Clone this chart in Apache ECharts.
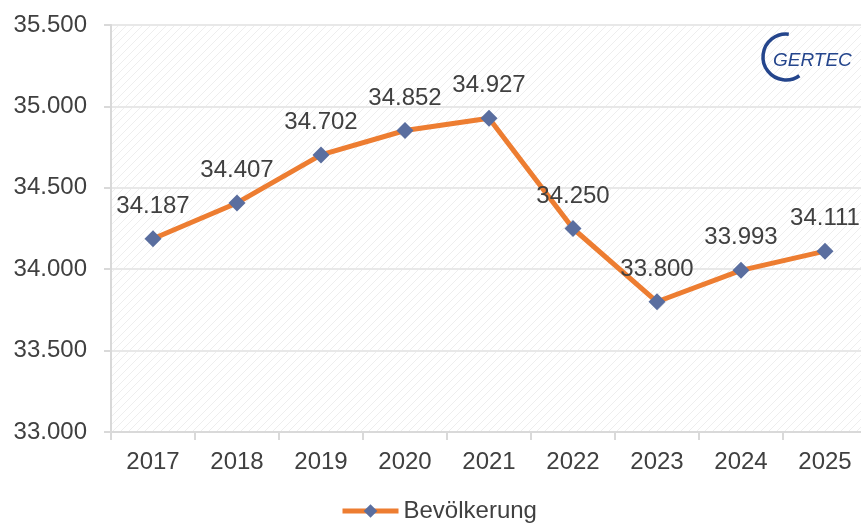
<!DOCTYPE html>
<html>
<head>
<meta charset="utf-8">
<script src="https://cdn.jsdelivr.net/npm/echarts@6/dist/echarts.min.js"></script>
<style>
html,body{margin:0;padding:0;background:#fff;}
#main{width:861px;height:528px;}
</style>
</head>
<body>
<div id="main"></div>
<script>
var years = ['2017','2018','2019','2020','2021','2022','2023','2024','2025'];
var population = [34187, 34407, 34702, 34852, 34927, 34250, 33800, 33993, 34111];
var yMin = 33000, yMax = 35500, yStep = 500;

function fmt(v) {
    var s = String(Math.round(v));
    return s.replace(/\B(?=(\d{3})+(?!\d))/g, '.');
}

// diagonale Schraffur im Plotbereich
function hatch() {
    var c = document.createElement('canvas');
    c.width = 8; c.height = 8;
    var ctx = c.getContext('2d');
    ctx.fillStyle = '#ffffff';
    ctx.fillRect(0, 0, 8, 8);
    ctx.strokeStyle = '#eeeeee';
    ctx.lineWidth = 1;
    ctx.beginPath();
    ctx.moveTo(0, 8); ctx.lineTo(8, 0);
    ctx.moveTo(-4, 4); ctx.lineTo(4, -4);
    ctx.moveTo(4, 12); ctx.lineTo(12, 4);
    ctx.stroke();
    return c;
}

var myChart = echarts.init(document.getElementById('main'));
var option = {
    backgroundColor: '#ffffff',
    textStyle: { fontFamily: 'Liberation Sans' },
    grid: {
        left: 111, right: -6, top: 25, bottom: 96,
        outerBoundsMode: 'none',
        containLabel: false,
        show: true,
        backgroundColor: { image: hatch(), repeat: 'repeat' },
        borderWidth: 0
    },
    legend: {
        bottom: 0,
        left: 335,
        itemWidth: 56,
        itemHeight: 17,
        itemGap: 6,
        lineStyle: { width: 5, color: '#ed7d31' },
        textStyle: { fontSize: 24, color: '#404040' },
        data: ['Bevölkerung']
    },
    xAxis: {
        type: 'category',
        data: years,
        boundaryGap: true,
        axisLine: { lineStyle: { color: '#d9d9d9', width: 2 } },
        axisTick: { show: true, length: 8, lineStyle: { color: '#d9d9d9', width: 2 } },
        axisLabel: { fontSize: 24, color: '#404040', margin: 18 }
    },
    yAxis: {
        type: 'value',
        min: yMin, max: yMax, interval: yStep,
        axisLine: { show: true, lineStyle: { color: '#d9d9d9', width: 2 } },
        axisTick: { show: true, length: 7, lineStyle: { color: '#d9d9d9', width: 2 } },
        splitLine: { lineStyle: { color: '#e8e8e8', width: 2 } },
        axisLabel: { fontSize: 24, color: '#404040', margin: 24, formatter: fmt }
    },
    graphic: [
        {
            type: 'arc',
            shape: { cx: 786, cy: 57, r: 23, startAngle: -1.45, endAngle: 0.95, clockwise: false },
            style: { stroke: '#24458c', lineWidth: 3.5, fill: null }
        },
        {
            type: 'text',
            left: 773, top: 51,
            style: { text: 'GERTEC', fontSize: 19, fontStyle: 'italic', fontFamily: 'Liberation Sans', fill: '#24458c' }
        }
    ],
    series: [{
        name: 'Bevölkerung',
        type: 'line',
        data: population,
        symbol: 'diamond',
        symbolSize: 17,
        itemStyle: { color: '#5a6e9f' },
        lineStyle: { color: '#ed7d31', width: 5 },
        label: {
            show: true,
            position: 'top',
            distance: 12,
            fontSize: 24,
            color: '#404040',
            formatter: function (p) { return fmt(p.value); }
        }
    }]
};
myChart.setOption(option);
</script>
</body>
</html>
